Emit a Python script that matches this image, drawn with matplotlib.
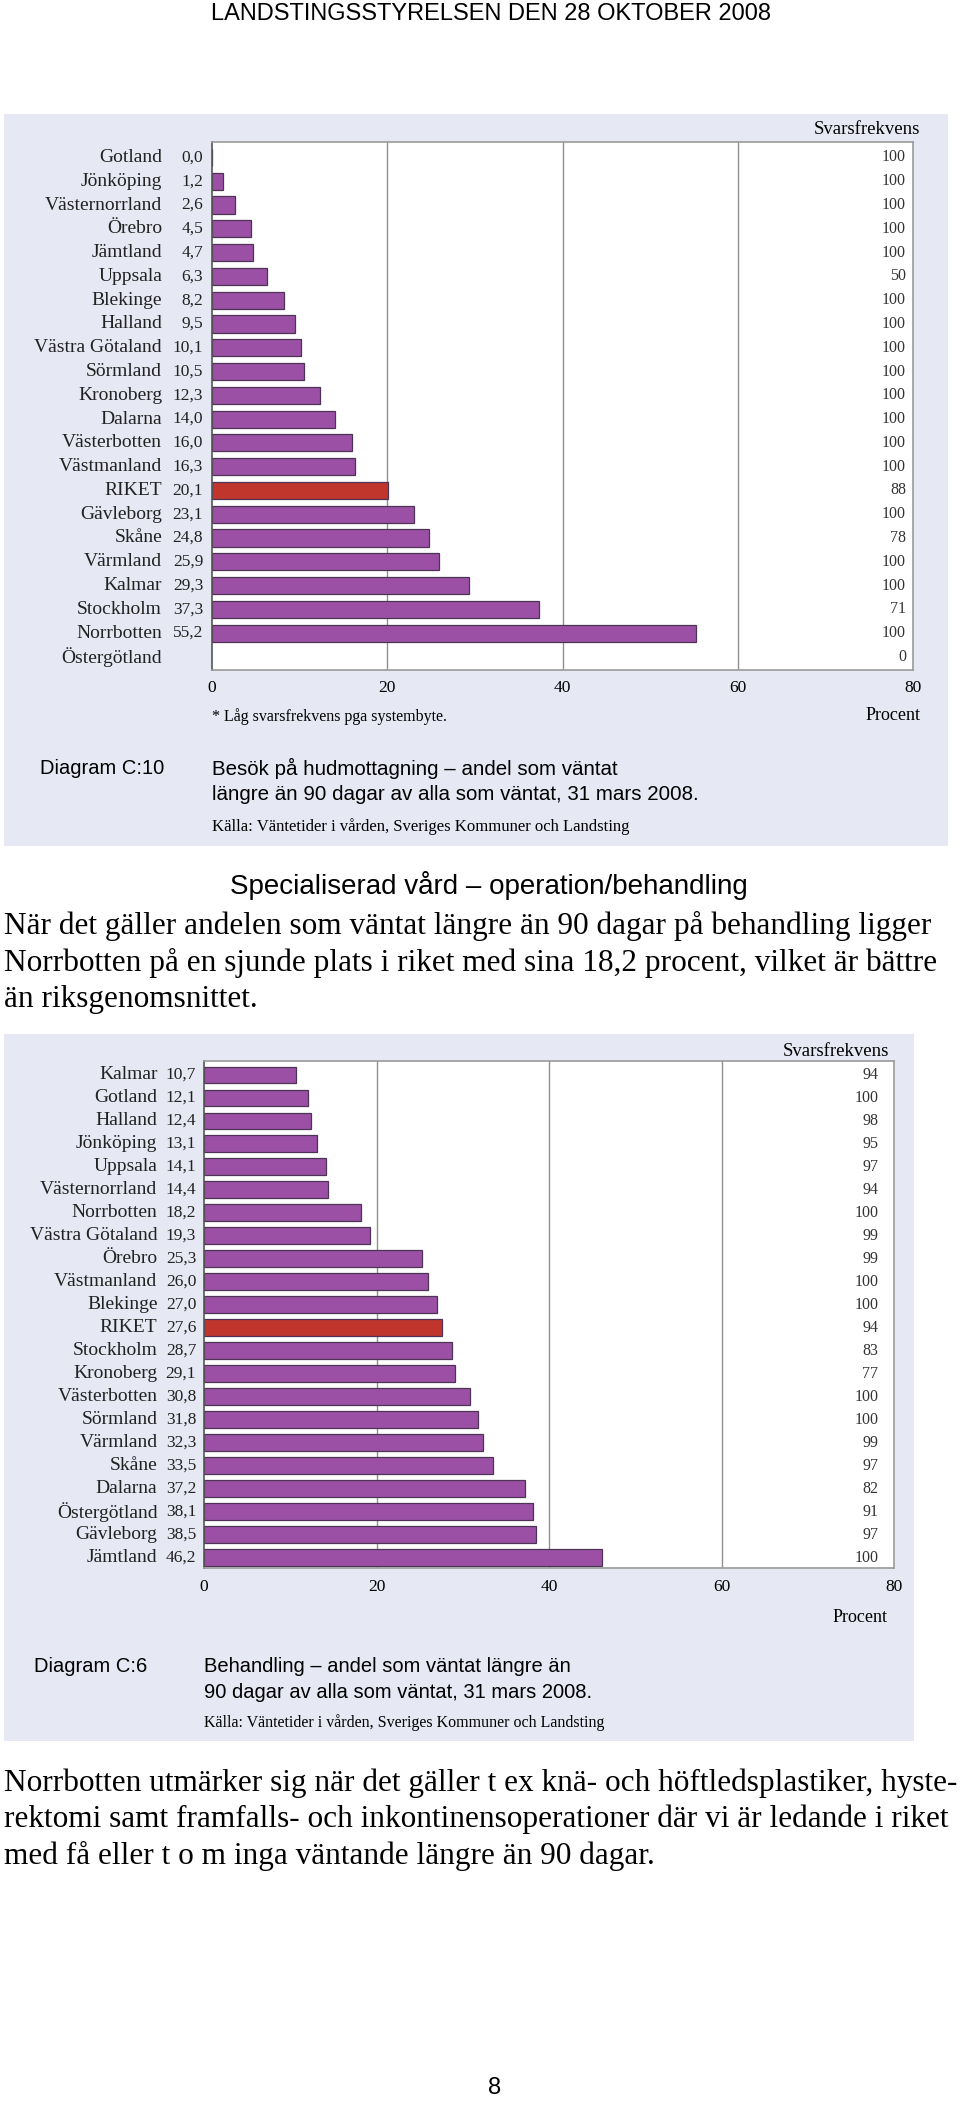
import matplotlib
matplotlib.use("Agg")
import matplotlib.pyplot as plt
from matplotlib.patches import Rectangle

W, H = 960, 2105

# --- data, diagram C:10 (hudmottagning) ---
regions1 = ["Gotland", "Jönköping", "Västernorrland", "Örebro", "Jämtland", "Uppsala",
            "Blekinge", "Halland", "Västra Götaland", "Sörmland", "Kronoberg", "Dalarna",
            "Västerbotten", "Västmanland", "RIKET", "Gävleborg", "Skåne", "Värmland",
            "Kalmar", "Stockholm", "Norrbotten", "Östergötland"]
values1 = [0.0, 1.2, 2.6, 4.5, 4.7, 6.3, 8.2, 9.5, 10.1, 10.5, 12.3, 14.0,
           16.0, 16.3, 20.1, 23.1, 24.8, 25.9, 29.3, 37.3, 55.2, None]
svar1 = [100, 100, 100, 100, 100, 50, 100, 100, 100, 100, 100, 100,
         100, 100, 88, 100, 78, 100, 100, 71, 100, 0]

# --- data, diagram C:6 (behandling) ---
regions2 = ["Kalmar", "Gotland", "Halland", "Jönköping", "Uppsala", "Västernorrland",
            "Norrbotten", "Västra Götaland", "Örebro", "Västmanland", "Blekinge", "RIKET",
            "Stockholm", "Kronoberg", "Västerbotten", "Sörmland", "Värmland", "Skåne",
            "Dalarna", "Östergötland", "Gävleborg", "Jämtland"]
values2 = [10.7, 12.1, 12.4, 13.1, 14.1, 14.4, 18.2, 19.3, 25.3, 26.0, 27.0, 27.6,
           28.7, 29.1, 30.8, 31.8, 32.3, 33.5, 37.2, 38.1, 38.5, 46.2]
svar2 = [94, 100, 98, 95, 97, 94, 100, 99, 99, 100, 100, 94,
         83, 77, 100, 100, 99, 97, 82, 91, 97, 100]

xticks = [0, 20, 40, 60, 80]

PANEL = "#e6e8f3"
PURPLE = "#9b50a6"
RED = "#c0362c"
EDGE = "#4e3454"
SERIF = ["Liberation Serif", "DejaVu Serif"]
SANS = ["Liberation Sans", "DejaVu Sans"]
NARROW = ["Liberation Sans Narrow", "Liberation Sans", "DejaVu Sans"]

fig = plt.figure(figsize=(W / 100, H / 100), dpi=100)
fig.patch.set_facecolor("white")


def fx(x):
    return x / W


def fy(y):
    return 1 - y / H


def ftext(x, y, s, **kw):
    fig.text(fx(x), fy(y), s, va="center", **kw)


def panel(x0, y0, x1, y1):
    fig.add_artist(Rectangle((fx(x0), fy(y1)), fx(x1 - x0), (y1 - y0) / H,
                             transform=fig.transFigure, facecolor=PANEL,
                             edgecolor="none", zorder=0))


def barchart(box, regions, values, svar, ylim, lab_x, val_x, svar_x, tick_pad):
    left, top, right, bottom = box
    ax = fig.add_axes([fx(left), fy(bottom), fx(right - left), (bottom - top) / H])
    ax.set_facecolor("white")
    ax.set_xlim(0, 80)
    ax.set_ylim(*ylim)
    ax.set_yticks([])
    ax.set_xticks(xticks)
    ax.set_xticklabels([str(t) for t in xticks], family=SERIF, fontsize=12.5)
    ax.tick_params(axis="x", length=0, pad=tick_pad)
    for t in [20, 40, 60]:
        ax.axvline(t, color="#8f8f8f", lw=1.0, zorder=1)
    for s in ax.spines.values():
        s.set_color("#9a9a9a")
        s.set_linewidth(1.2)
    ax.spines["left"].set_color("#555555")
    for i, (r, v, sv) in enumerate(zip(regions, values, svar)):
        if v is not None:
            ax.barh(i, v, height=0.72, color=RED if r == "RIKET" else PURPLE,
                    edgecolor=EDGE, linewidth=0.9, zorder=2)
            ax.text(val_x, i, f"{v:.1f}".replace(".", ","), ha="right", va="center",
                    family=SERIF, fontsize=12.5, color="#222222", clip_on=False)
        ax.text(lab_x, i, r, ha="right", va="center", family=SERIF,
                fontsize=14, color="#222222", clip_on=False)
        ax.text(svar_x, i, str(sv), ha="right", va="center", family=SERIF,
                fontsize=11.5, color="#333333", clip_on=False)
    return ax


# header
ftext(491, 14, "LANDSTINGSSTYRELSEN DEN 28 OKTOBER 2008", ha="center",
      family=NARROW, fontsize=17)

# ---------- diagram C:10 ----------
panel(4, 114, 948, 846)
barchart((212, 142, 913, 670), regions1, values1, svar1, (21.55, -0.65),
         -5.7, -1.0, 79.2, 7)
ftext(920, 130, "Svarsfrekvens", ha="right", family=SERIF, fontsize=13.5)
ftext(212, 717, "* Låg svarsfrekvens pga systembyte.", ha="left", family=SERIF, fontsize=11.5)
ftext(921, 716, "Procent", ha="right", family=SERIF, fontsize=13)
ftext(40, 768, "Diagram C:10", ha="left", family=SANS, fontsize=14.5)
ftext(212, 768, "Besök på hudmottagning – andel som väntat", ha="left", family=SANS, fontsize=14.8)
ftext(212, 795, "längre än 90 dagar av alla som väntat, 31 mars 2008.", ha="left",
      family=SANS, fontsize=14.8)
ftext(212, 827, "Källa: Väntetider i vården, Sveriges Kommuner och Landsting", ha="left",
      family=SERIF, fontsize=12)

# ---------- text between ----------
ftext(489, 885, "Specialiserad vård – operation/behandling", ha="center",
      family=SANS, fontsize=20)
para1 = ["När det gäller andelen som väntat längre än 90 dagar på behandling ligger",
         "Norrbotten på en sjunde plats i riket med sina 18,2 procent, vilket är bättre",
         "än riksgenomsnittet."]
for k, line in enumerate(para1):
    ftext(4, 926 + k * 36.5, line, ha="left", family=SERIF, fontsize=22.5)

# ---------- diagram C:6 ----------
panel(4, 1034, 914, 1741)
barchart((204, 1061, 894, 1568), regions2, values2, svar2, (21.45, -0.6),
         -5.4, -0.9, 78.2, 8)
ftext(889, 1051, "Svarsfrekvens", ha="right", family=SERIF, fontsize=13.5)
ftext(888, 1617, "Procent", ha="right", family=SERIF, fontsize=13)
ftext(34, 1666, "Diagram C:6", ha="left", family=SANS, fontsize=14.5)
ftext(204, 1666, "Behandling – andel som väntat längre än", ha="left", family=SANS, fontsize=14.5)
ftext(204, 1693, "90 dagar av alla som väntat, 31 mars 2008.", ha="left",
      family=SANS, fontsize=14.5)
ftext(204, 1723, "Källa: Väntetider i vården, Sveriges Kommuner och Landsting", ha="left",
      family=SERIF, fontsize=11.5)

para2 = ["Norrbotten utmärker sig när det gäller t ex knä- och höftledsplastiker, hyste-",
         "rektomi samt framfalls- och inkontinensoperationer där vi är ledande i riket",
         "med få eller t o m inga väntande längre än 90 dagar."]
for k, line in enumerate(para2):
    ftext(4, 1783 + k * 36.5, line, ha="left", family=SERIF, fontsize=22.5)

ftext(495, 2088, "8", ha="center", family=NARROW, fontsize=17)

fig.savefig("out.png", dpi=100, facecolor="white")
